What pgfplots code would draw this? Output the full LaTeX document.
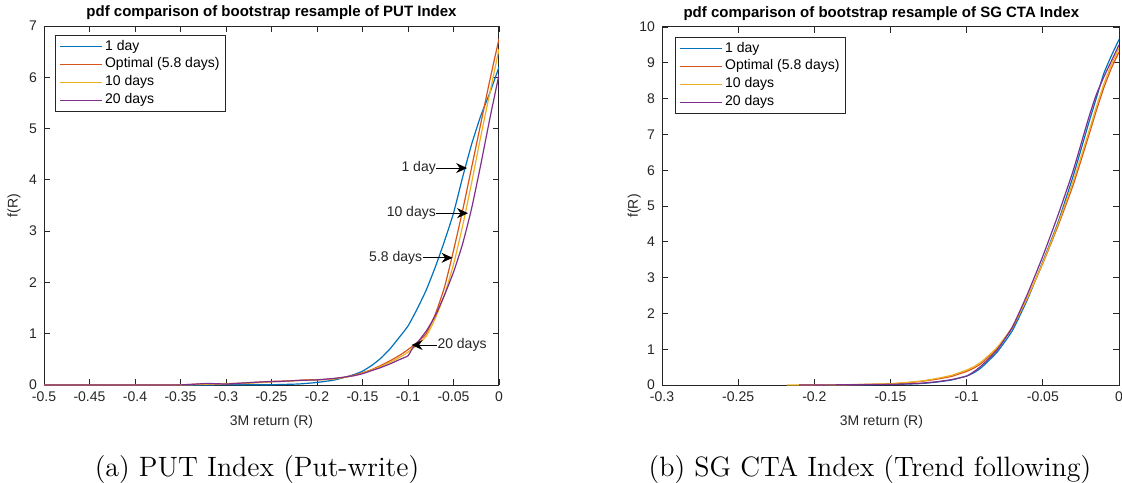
\documentclass[border=0pt]{standalone}
\usepackage{fontspec}
\setsansfont{Liberation Sans}
\usepackage{pgfplots}
\pgfplotsset{compat=1.18}
\usetikzlibrary{arrows.meta}

\definecolor{mblue}{rgb}{0,0.447,0.741}
\definecolor{morange}{rgb}{0.85,0.325,0.098}
\definecolor{myellow}{rgb}{0.929,0.694,0.125}
\definecolor{mpurple}{rgb}{0.494,0.184,0.556}
\definecolor{axgray}{rgb}{0.15,0.15,0.15}

\newcommand{\smallfont}{\sffamily\fontsize{7}{8}\selectfont}

\tikzset{
  note/.style={font=\smallfont, text=axgray},
  pointer/.style={-{Stealth[length=5.5pt,width=5pt]}, line width=0.5pt, black},
}

\pgfplotsset{
  matlab/.style={
    scale only axis,
    axis line style={axgray, line width=0.5pt},
    every tick/.style={axgray, line width=0.4pt},
    tick align=inside,
    major tick length=3pt,
    tick label style={font=\smallfont, text=axgray},
    /pgf/number format/assume math mode=true,
    /pgf/number format/fixed,
    /pgf/number format/precision=2,
    label style={font=\smallfont, text=axgray},
    every axis title/.style={font=\sffamily\bfseries\fontsize{7.5}{9}\selectfont, text=black, anchor=center},
    xlabel style={anchor=center},
    ylabel style={anchor=center},
    legend style={font=\smallfont, draw=axgray, line width=0.5pt,
      at={(0,1)}, anchor=north west, inner xsep=2pt, inner ysep=1pt,
      nodes={inner sep=1.2pt}},
    legend cell align=left,
    legend image code/.code={\draw[#1] (0pt,0pt) -- (21pt,0pt);},
    every axis plot/.append style={line width=0.6pt, smooth, tension=0.3},
  },
}

\begin{document}
\begin{tikzpicture}
\useasboundingbox (0,0) rectangle (561pt,241pt);

% (a) PUT Index
\begin{axis}[matlab,
  at={(22pt,48.5pt)}, anchor=south west,
  width=227.5pt, height=179.5pt,
  xmin=-0.5, xmax=0, ymin=0, ymax=7,
  xtick={-0.5,-0.45,...,0.01}, ytick={0,1,...,7},
  title={pdf comparison of bootstrap resample of PUT Index},
  title style={at={(axis description cs:0.5,1.036)}},
  xlabel={3M return (R)},
  xlabel style={at={(axis description cs:0.5,-0.103)}},
  ylabel={f(R)},
  ylabel style={at={(axis description cs:-0.066,0.5)}},
  legend style={xshift=5.5pt, yshift=-4.5pt},
]
\addplot[mblue] coordinates {
(-0.5,0) (-0.35,0) (-0.3,0.003) (-0.25,0.006) (-0.22,0.02) (-0.2,0.05)
(-0.18,0.1) (-0.16,0.2) (-0.15,0.27) (-0.14,0.38) (-0.13,0.52) (-0.12,0.70)
(-0.11,0.92) (-0.10,1.15) (-0.09,1.48) (-0.08,1.85) (-0.07,2.3) (-0.06,2.8)
(-0.05,3.35) (-0.04,4.05) (-0.03,4.7) (-0.02,5.25) (-0.01,5.7) (0,6.2)
};
\addlegendentry{1 day}
\addplot[morange] coordinates {
(-0.5,0) (-0.36,0) (-0.33,0.02) (-0.31,0.02) (-0.29,0.03) (-0.27,0.05)
(-0.25,0.07) (-0.23,0.08) (-0.21,0.1) (-0.19,0.11) (-0.17,0.15) (-0.16,0.19)
(-0.15,0.24) (-0.14,0.3) (-0.13,0.38) (-0.12,0.47) (-0.11,0.57) (-0.10,0.69)
(-0.09,0.83) (-0.08,1.0) (-0.07,1.38) (-0.06,1.9) (-0.05,2.62) (-0.04,3.4)
(-0.03,4.25) (-0.02,5.1) (-0.01,5.95) (0,6.75)
};
\addlegendentry{Optimal (5.8 days)}
\addplot[myellow] coordinates {
(-0.5,0) (-0.36,0) (-0.33,0.01) (-0.3,0.03) (-0.28,0.03) (-0.26,0.05)
(-0.23,0.08) (-0.2,0.1) (-0.18,0.12) (-0.16,0.18) (-0.15,0.23) (-0.14,0.29)
(-0.13,0.36) (-0.12,0.44) (-0.11,0.53) (-0.10,0.64) (-0.09,0.78) (-0.08,0.95)
(-0.07,1.3) (-0.06,1.75) (-0.05,2.35) (-0.04,3.1) (-0.03,3.95) (-0.02,4.85)
(-0.01,5.7) (0,6.55)
};
\addlegendentry{10 days}
\addplot[mpurple] coordinates {
(-0.5,0) (-0.36,0) (-0.34,0.01) (-0.32,0.03) (-0.3,0.02) (-0.28,0.04)
(-0.26,0.06) (-0.24,0.07) (-0.22,0.09) (-0.2,0.1) (-0.18,0.13) (-0.16,0.18)
(-0.15,0.22) (-0.14,0.28) (-0.13,0.34) (-0.12,0.41) (-0.11,0.49) (-0.10,0.57)
(-0.095,0.72) (-0.09,0.82) (-0.08,1.05) (-0.07,1.35) (-0.06,1.75) (-0.05,2.2)
(-0.04,2.75) (-0.03,3.45) (-0.02,4.3) (-0.01,5.2) (0,6.05)
};
\addlegendentry{20 days}

\draw[pointer] (axis cs:-0.069,4.23) -- (axis cs:-0.035,4.23);
\node[note, anchor=east, inner sep=0pt] at (axis cs:-0.069,4.23) {1 day};
\draw[pointer] (axis cs:-0.069,3.35) -- (axis cs:-0.034,3.35);
\node[note, anchor=east, inner sep=0pt] at (axis cs:-0.069,3.35) {10 days};
\draw[pointer] (axis cs:-0.084,2.48) -- (axis cs:-0.051,2.48);
\node[note, anchor=east, inner sep=0pt] at (axis cs:-0.084,2.48) {5.8 days};
\draw[pointer] (axis cs:-0.068,0.78) -- (axis cs:-0.096,0.78);
\node[note, anchor=west, inner sep=0pt] at (axis cs:-0.068,0.78) {20 days};
\end{axis}

% (b) SG CTA Index
\begin{axis}[matlab,
  at={(331pt,48.5pt)}, anchor=south west,
  width=228.5pt, height=179pt,
  xmin=-0.3, xmax=0, ymin=0, ymax=10,
  xtick={-0.3,-0.25,...,0.01}, ytick={0,1,...,10},
  title={pdf comparison of bootstrap resample of SG CTA Index},
  title style={at={(axis description cs:0.48,1.036)}},
  xlabel={3M return (R)},
  xlabel style={at={(axis description cs:0.48,-0.103)}},
  ylabel={f(R)},
  ylabel style={at={(axis description cs:-0.061,0.5)}},
  legend style={xshift=6.5pt, yshift=-5pt},
]
\addplot[mblue] coordinates {
(-0.21,0) (-0.19,0.002) (-0.17,0.006) (-0.15,0.015) (-0.14,0.025) (-0.13,0.04)
(-0.12,0.08) (-0.11,0.14) (-0.10,0.25) (-0.095,0.35) (-0.09,0.5) (-0.08,0.92)
(-0.07,1.52) (-0.06,2.4) (-0.05,3.45) (-0.04,4.55) (-0.03,5.85) (-0.02,7.3)
(-0.015,8.0) (-0.01,8.7) (-0.005,9.2) (0,9.65)
};
\addlegendentry{1 day}
\addplot[morange] coordinates {
(-0.21,0) (-0.19,0.004) (-0.17,0.012) (-0.15,0.03) (-0.14,0.06) (-0.13,0.1)
(-0.12,0.16) (-0.11,0.24) (-0.10,0.38) (-0.095,0.48) (-0.09,0.62) (-0.08,1.02)
(-0.07,1.6) (-0.06,2.45) (-0.05,3.4) (-0.04,4.45) (-0.03,5.6) (-0.02,6.95)
(-0.015,7.65) (-0.01,8.3) (-0.005,8.85) (0,9.3)
};
\addlegendentry{Optimal (5.8 days)}
\addplot[myellow] coordinates {
(-0.218,0) (-0.19,0.005) (-0.17,0.015) (-0.15,0.04) (-0.14,0.07) (-0.13,0.11)
(-0.12,0.18) (-0.11,0.27) (-0.10,0.42) (-0.095,0.52) (-0.09,0.66) (-0.08,1.05)
(-0.07,1.62) (-0.06,2.45) (-0.05,3.42) (-0.04,4.5) (-0.03,5.7) (-0.02,7.05)
(-0.015,7.75) (-0.01,8.4) (-0.005,8.95) (0,9.4)
};
\addlegendentry{10 days}
\addplot[mpurple] coordinates {
(-0.21,0) (-0.19,0.003) (-0.17,0.01) (-0.15,0.02) (-0.14,0.03) (-0.13,0.05)
(-0.12,0.09) (-0.11,0.15) (-0.10,0.25) (-0.095,0.38) (-0.09,0.55) (-0.08,0.98)
(-0.07,1.62) (-0.06,2.55) (-0.05,3.6) (-0.04,4.75) (-0.03,6.0) (-0.02,7.45)
(-0.015,8.1) (-0.01,8.6) (-0.005,9.05) (0,9.5)
};
\addlegendentry{20 days}
\end{axis}

\node[font=\fontsize{14}{16}\selectfont, anchor=base] at (128.5pt,3pt) {(a) PUT Index (Put-write)};
\node[font=\fontsize{14}{16}\selectfont, anchor=base] at (435pt,3pt) {(b) SG CTA Index (Trend following)};
\end{tikzpicture}
\end{document}
